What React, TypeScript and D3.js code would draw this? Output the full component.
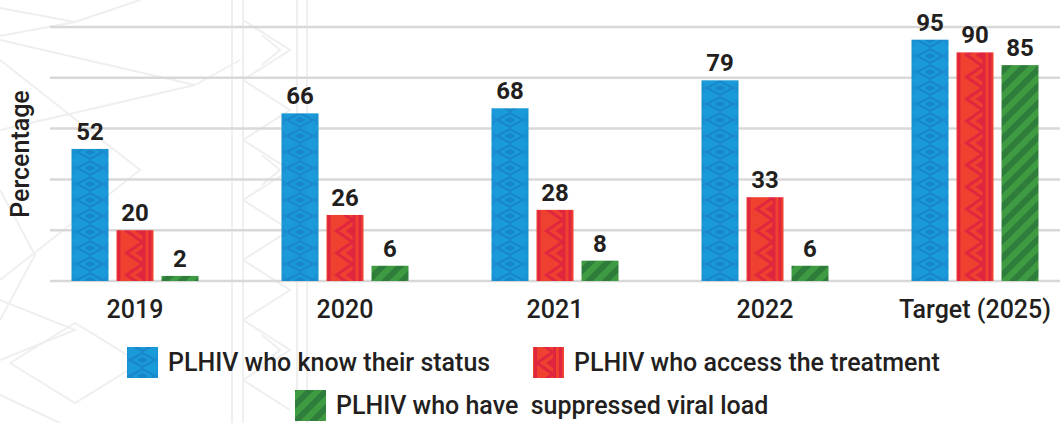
import React from "react"
import * as d3 from "d3"

const categories = ["2019", "2020", "2021", "2022", "Target (2025)"]
const seriesNames = [
  "PLHIV who know their status",
  "PLHIV who access the treatment",
  "PLHIV who have  suppressed viral load",
]
const knowStatus = [52, 66, 68, 79, 95]
const onTreatment = [20, 26, 28, 33, 90]
const suppressed = [2, 6, 8, 6, 85]
const yTicks = [0, 20, 40, 60, 80, 100]

const W = 1060
const H = 423
const FONT = "Roboto, 'Noto Sans', sans-serif"
const TEXT = "#231f20"

const keys = ["know", "treat", "supp"]
const values: Record<string, number[]> = { know: knowStatus, treat: onTreatment, supp: suppressed }

const x0 = d3.scaleBand<string>().domain(categories).range([30, 1080]).padding(0)
const x1 = d3.scaleBand<string>().domain(keys).range([-63.5, 63.5]).paddingInner(8 / 45)
const y = d3.scaleLinear().domain([0, 100]).range([281, 27])

// pattern tiles, each anchored at a bar's left edge
const BluePattern = ({ id, x0: px, w }: { id: string; x0: number; w: number }) => (
  <pattern id={id} patternUnits="userSpaceOnUse" x={px} y={0} width={w} height={16}>
    <rect width={w} height={16} fill="#1a9ad8" />
    <path d={`M${w / 2 - 13},8 L${w / 2},1 L${w / 2 + 13},8 L${w / 2},15 Z`} fill="none" stroke="#1886c8" strokeWidth={2} />
    <path d={`M${w / 2 - 6},8 L${w / 2},5 L${w / 2 + 6},8 L${w / 2},11 Z`} fill="#1886c8" />
    <path d={`M0,0 L${w / 2 - 13},8 L0,16 Z M${w},0 L${w / 2 + 13},8 L${w},16 Z`} fill="#1886c8" opacity={0.5} />
  </pattern>
)

const RedPattern = ({ id, x0: px, w }: { id: string; x0: number; w: number }) => (
  <pattern id={id} patternUnits="userSpaceOnUse" x={px} y={0} width={w} height={22}>
    <rect width={w} height={22} fill="#ef4130" />
    <rect x={1} width={3} height={22} fill="#e0263e" />
    <rect x={w - 11} width={3} height={22} fill="#e0263e" />
    <rect x={w - 5} width={3} height={22} fill="#e0263e" />
    <path d={`M${w - 11},0 L${w - 27},11 L${w - 11},22`} fill="none" stroke="#e0263e" strokeWidth={3} />
    <path d={`M${w - 11},6 L${w - 18},11 L${w - 11},16 Z`} fill="#e0263e" />
  </pattern>
)

const GreenPattern = ({ id }: { id: string }) => (
  <pattern id={id} patternUnits="userSpaceOnUse" width={12} height={12} patternTransform="rotate(-45)">
    <rect width={12} height={12} fill="#3f9b42" />
    <rect width={12} height={6} fill="#2f7d3b" />
  </pattern>
)

// faint ornamental background
const Decor = () => {
  const c = "#efefef"
  const zig = (pts: [number, number][]) => d3.line()(pts) as string
  return (
    <g fill="none" stroke={c} strokeWidth={2}>
      <path d={zig([[0, 8], [75, 22], [0, 36]])} />
      <path d={zig([[0, 40], [195, 85], [0, 130]])} />
      <path d={zig([[0, 60], [140, 170], [0, 280]])} />
      <path d={zig([[0, 190], [35, 255], [0, 320]])} />
      <path d={zig([[0, 300], [75, 330], [0, 360]])} />
      <path d={zig([[10, 363], [75, 323], [140, 363], [75, 403], [10, 363]])} />
      <path d={zig([[0, 395], [60, 423]])} />
      <path d={zig([[140, 0], [75, 22]])} />
      <path d={zig([[195, 85], [240, 60]])} />
      {[232, 243, 297, 307].map((vx) => (
        <line key={vx} x1={vx} x2={vx} y1={0} y2={H} />
      ))}
      <path d={zig([[243, 20], [290, 50], [243, 80], [290, 110], [243, 140], [290, 170], [243, 200], [290, 230], [243, 260], [290, 290], [243, 320], [290, 350], [243, 380], [290, 410]])} />
      <path d={zig([[262, 35], [280, 50], [262, 65]])} />
      <path d={zig([[262, 155], [280, 170], [262, 185]])} />
      <path d={zig([[262, 335], [280, 350], [262, 365]])} />
    </g>
  )
}

export default function App() {
  const barW = x1.bandwidth()
  const fills: Record<string, (id: string, px: number, w: number) => React.ReactNode> = {
    know: (id, px, w) => <BluePattern key={id} id={id} x0={px} w={w} />,
    treat: (id, px, w) => <RedPattern key={id} id={id} x0={px} w={w} />,
    supp: (id) => <GreenPattern key={id} id={id} />,
  }

  const bars = categories.flatMap((cat, i) =>
    keys.map((k) => {
      const cx = (x0(cat) as number) + x0.bandwidth() / 2
      const bx = cx + (x1(k) as number)
      return { id: `p-${k}-${i}`, k, cat, bx, v: values[k][i] }
    })
  )

  const legendItems = [
    { k: "know", x: 127, y: 347, label: seriesNames[0] },
    { k: "treat", x: 533, y: 347, label: seriesNames[1] },
    { k: "supp", x: 295, y: 390, label: seriesNames[2] },
  ]

  return (
    <svg width={W} height={H} style={{ display: "block", position: "absolute", left: 0, top: 0 }} fontFamily={FONT}>
      <defs>
        {bars.map((b) => fills[b.k](b.id, b.bx, barW))}
        {legendItems.map((l) => fills[l.k](`lg-${l.k}`, l.x, 31))}
      </defs>
      <rect width={W} height={H} fill="#ffffff" />
      <Decor />

      <g>
        {yTicks.map((t) => (
          <line key={t} x1={50} x2={W} y1={y(t)} y2={y(t)} stroke="#d9d8d8" strokeWidth={2.5} />
        ))}
      </g>

      <text
        transform={`translate(29,154) rotate(-90)`}
        textAnchor="middle"
        fontSize={25}
        fontWeight={500}
        fill={TEXT}
      >
        Percentage
      </text>

      <g>
        {bars.map((b) => (
          <g key={b.id}>
            <rect x={b.bx} y={y(b.v)} width={barW} height={y(0) - y(b.v)} fill={`url(#${b.id})`} />
            <text x={b.bx + barW / 2} y={y(b.v) - 9} textAnchor="middle" fontSize={24} fontWeight={700} fill={TEXT}>
              {b.v}
            </text>
          </g>
        ))}
      </g>

      <g>
        {categories.map((c) => (
          <text
            key={c}
            x={(x0(c) as number) + x0.bandwidth() / 2}
            y={318}
            textAnchor="middle"
            fontSize={25}
            fontWeight={500}
            fill={TEXT}
          >
            {c}
          </text>
        ))}
      </g>

      <g>
        {legendItems.map((l) => (
          <g key={l.k}>
            <rect x={l.x} y={l.y} width={31} height={31} fill={`url(#lg-${l.k})`} />
            <text x={l.x + 41} y={l.y + 24} fontSize={25} fontWeight={500} fill={TEXT} style={{ whiteSpace: "pre" }}>
              {l.label}
            </text>
          </g>
        ))}
      </g>
    </svg>
  )
}
